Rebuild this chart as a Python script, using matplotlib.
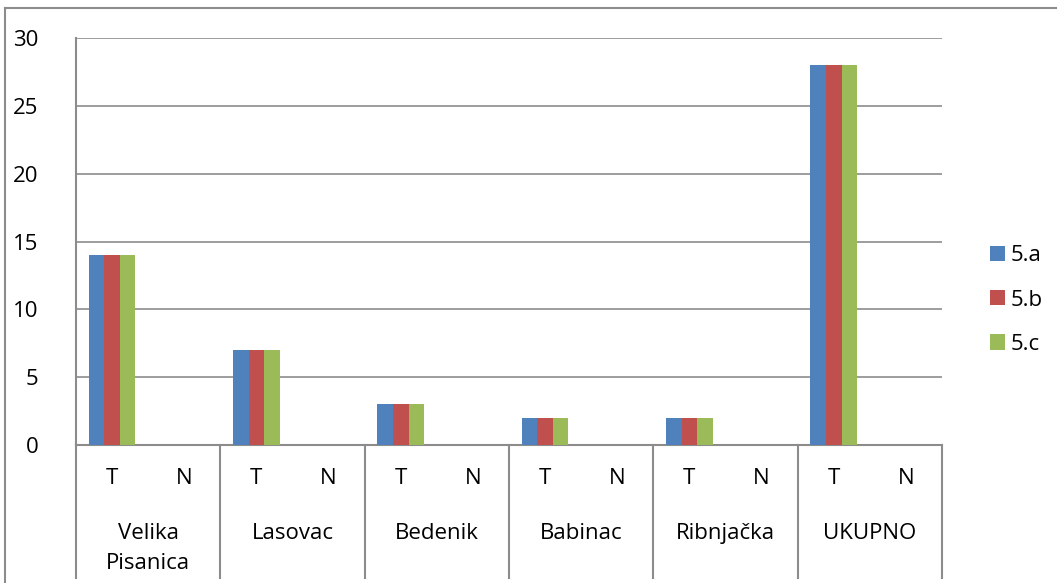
import matplotlib.pyplot as plt
from matplotlib.patches import Patch
import numpy as np

# ---- data ----
places = ['Velika\nPisanica', 'Lasovac', 'Bedenik', 'Babinac', 'Ribnjačka', 'UKUPNO']
sub_labels = ['T', 'N']
series_names = ['5.a', '5.b', '5.c']
vals_5a = [14, 0, 7, 0, 3, 0, 2, 0, 2, 0, 28, 0]
vals_5b = [14, 0, 7, 0, 3, 0, 2, 0, 2, 0, 28, 0]
vals_5c = [14, 0, 7, 0, 3, 0, 2, 0, 2, 0, 28, 0]
colors = ['#4F81BD', '#C0504D', '#9BBB59']

plt.rcParams['font.family'] = ['Open Sans', 'DejaVu Sans']
fs = 16

fig = plt.figure(figsize=(10.57, 5.83), dpi=100)
W, H = 1057, 583
ax = fig.add_axes([76 / W, 1 - 445 / H, (942 - 76) / W, (445 - 38) / H])

x = np.arange(len(vals_5a))
bw = 0.215
for i, (vals, c) in enumerate(zip([vals_5a, vals_5b, vals_5c], colors)):
    ax.bar(x + (i - 1) * bw, vals, width=bw, color=c, edgecolor='none', zorder=3)

ax.set_xlim(-0.5, len(x) - 0.5)
ax.set_ylim(0, 30)
ax.set_yticks(range(0, 31, 5))
ax.yaxis.grid(True, color='#8c8c8c', linewidth=1.2, zorder=0)
ax.tick_params(axis='y', length=0, pad=27, labelsize=fs)
ax.tick_params(axis='x', length=0)
ax.set_xticks([])
for s in ['top', 'right']:
    ax.spines[s].set_visible(False)
for s in ['left', 'bottom']:
    ax.spines[s].set_color('#8c8c8c')
    ax.spines[s].set_linewidth(1.5)

# two-level category axis
tr = ax.get_xaxis_transform()
y_bot = -(578 - 445) / (445 - 38)
for b in np.arange(-0.5, len(x), 2):
    ax.plot([b, b], [0, y_bot], transform=tr, color='#8c8c8c', lw=1.5, clip_on=False)
for k in x:
    ax.text(k, -(479 - 445) / 407, sub_labels[k % 2], transform=tr,
            ha='center', va='center', fontsize=fs)
for g, name in enumerate(places):
    ax.text(2 * g + 0.5, -(523 - 445) / 407, name, transform=tr,
            ha='center', va='top', fontsize=fs, linespacing=1.55)

# outer chart border (partly cropped)
fig.add_artist(plt.Line2D([5 / W, 5 / W], [0, 1 - 8 / H], color='#8c8c8c', lw=1.5))
fig.add_artist(plt.Line2D([5 / W, 1], [1 - 8 / H, 1 - 8 / H], color='#8c8c8c', lw=1.5))

handles = [Patch(facecolor=c, edgecolor='none') for c in colors]
fig.legend(handles, series_names, loc='center left',
           bbox_to_anchor=(970 / W, 1 - 300 / H), frameon=False,
           handlelength=0.68, handleheight=0.68, handletextpad=0.25,
           labelspacing=1.05, fontsize=fs)

fig.savefig('out.png', dpi=100)
